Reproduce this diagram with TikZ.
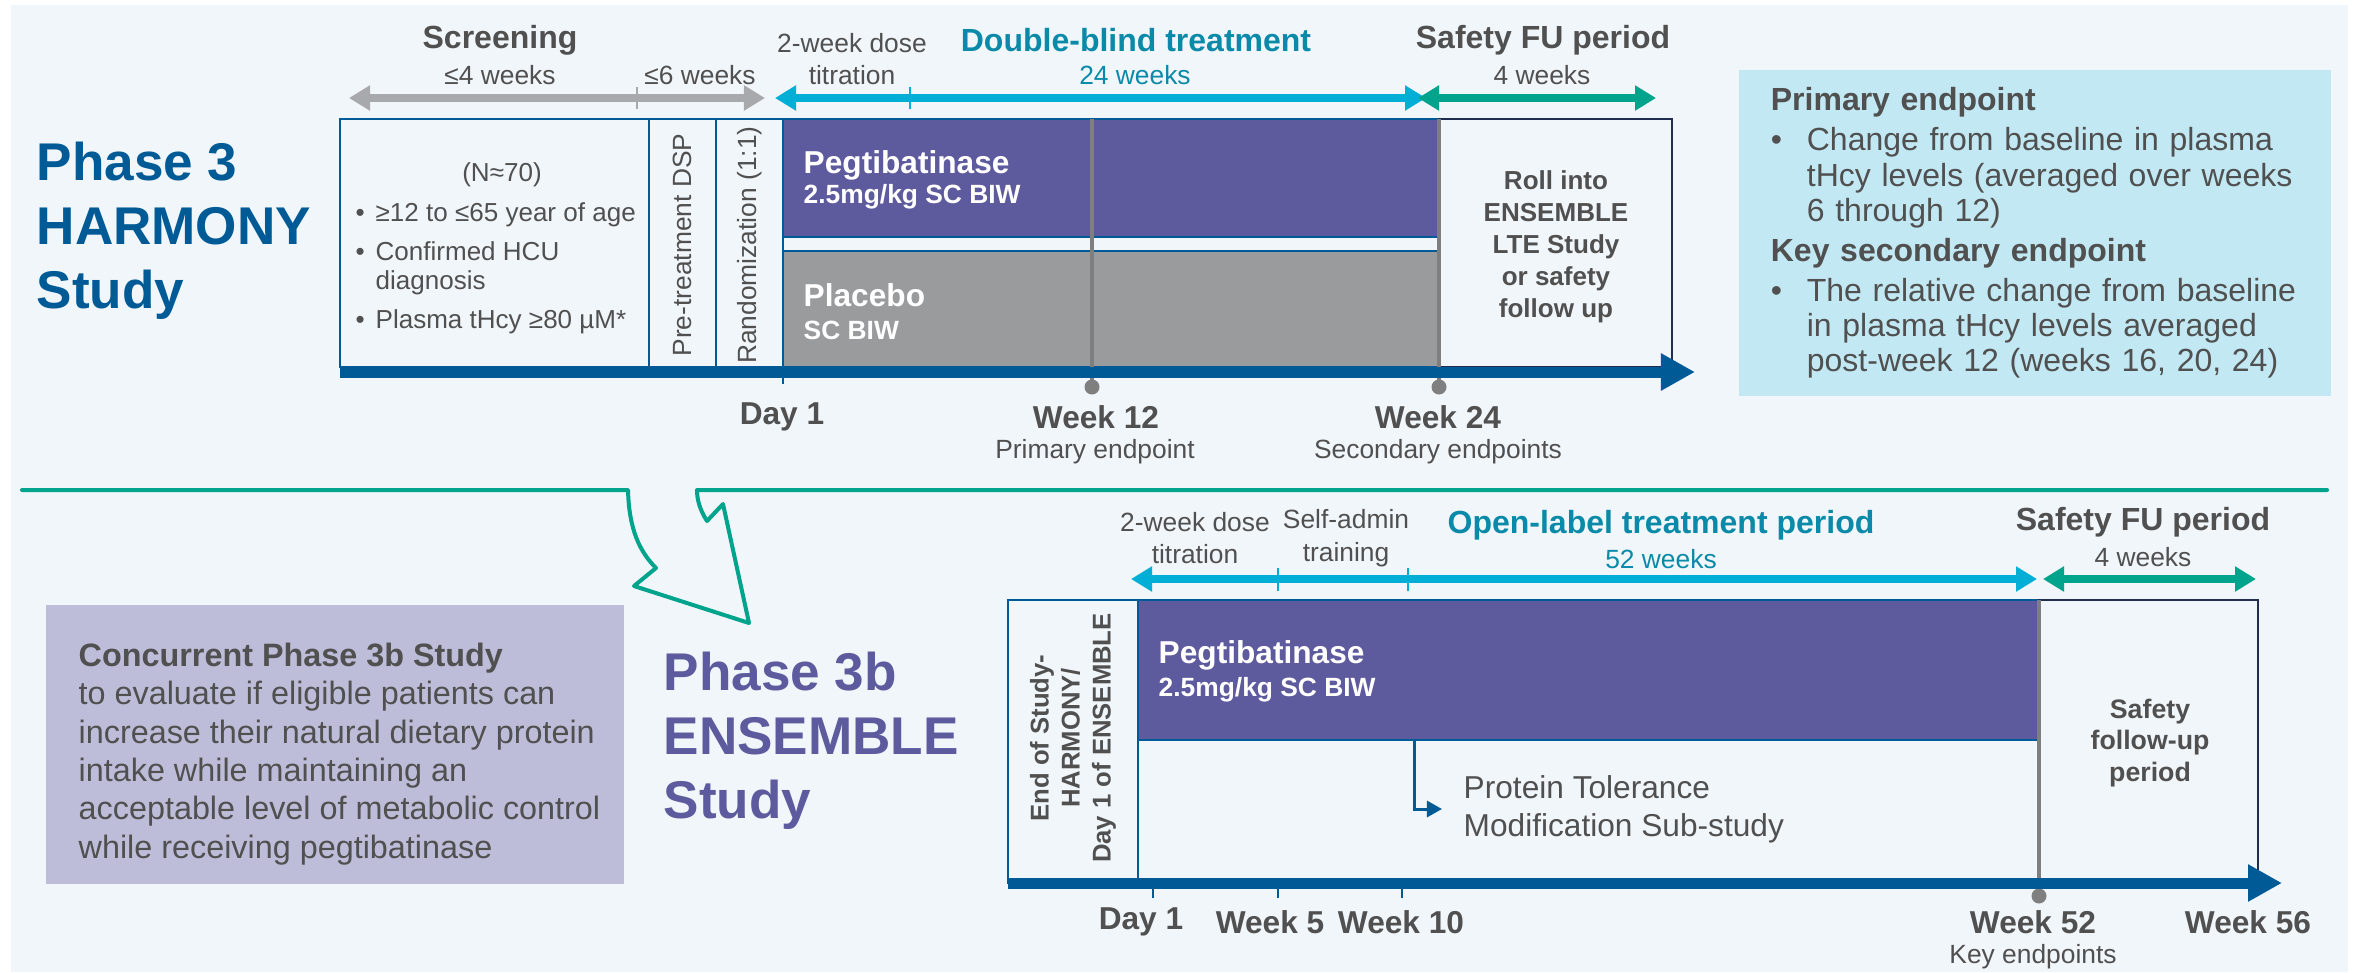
\documentclass[tikz,border=0pt]{standalone}
\usepackage{fontspec}
\setmainfont{Liberation Sans}
\usetikzlibrary{arrows.meta}
\definecolor{bgpale}{HTML}{F1F6FA}
\definecolor{harmblue}{HTML}{005A96}
\definecolor{pegpurple}{HTML}{5E5A9E}
\definecolor{placgrey}{HTML}{9A9B9D}
\definecolor{txtgrey}{HTML}{505050}
\definecolor{tealtxt}{HTML}{0A8AA8}
\definecolor{spancyan}{HTML}{00AED6}
\definecolor{spangreen}{HTML}{00A38B}
\definecolor{spangrey}{HTML}{A7A9AC}
\definecolor{infocyan}{HTML}{C2E8F3}
\definecolor{lavender}{HTML}{BDBDD9}
\definecolor{navyline}{HTML}{1F2D50}
\definecolor{markgrey}{HTML}{7F7F7F}
\newcommand{\critbullet}{\makebox[0.2cm][l]{•}}
\newcommand{\infobul}{\makebox[0.36cm][l]{•}}
\tikzstyle{studytitle} = [
    anchor=west,
    align=left,
    inner sep=0,
    font=\bfseries\fontsize{15.1}{18.2}\selectfont
]
\tikzstyle{heading} = [
    inner sep=0,
    text=txtgrey,
    font=\bfseries\fontsize{9.1}{10.9}\selectfont
]
\tikzstyle{subhead} = [
    inner sep=0,
    align=center,
    text=txtgrey,
    font=\fontsize{7.5}{9.2}\selectfont
]
\tikzstyle{daylabel} = [
    inner sep=0,
    text=txtgrey,
    font=\bfseries\fontsize{9}{10.8}\selectfont
]
\tikzstyle{endpointlabel} = [
    inner sep=0,
    text=txtgrey,
    font=\fontsize{7.5}{9}\selectfont
]
\tikzstyle{critlabel} = [
    anchor=west,
    align=left,
    inner sep=0,
    text=txtgrey,
    font=\fontsize{7.4}{8.3}\selectfont
]
\tikzstyle{drugname} = [
    anchor=west,
    inner sep=0,
    text=white,
    font=\bfseries\fontsize{9}{10.8}\selectfont
]
\tikzstyle{drugdose} = [
    anchor=west,
    inner sep=0,
    text=white,
    font=\bfseries\fontsize{7.5}{9}\selectfont
]
\tikzstyle{vertlabel} = [
    rotate=90,
    inner sep=0,
    align=center,
    text=txtgrey,
    font=\fontsize{7.5}{9}\selectfont
]
\tikzstyle{boxnote} = [
    inner sep=0,
    align=center,
    text=txtgrey,
    font=\bfseries\fontsize{7.4}{9.1}\selectfont
]
\tikzstyle{bodytext} = [
    anchor=west,
    align=left,
    inner sep=0,
    text=txtgrey,
    font=\fontsize{9.2}{10.9}\selectfont
]
\tikzstyle{infobox} = [
    rectangle,
    fill=infocyan,
    minimum width=5.92cm,
    minimum height=3.26cm,
    text width=5.28cm,
    inner xsep=0.32cm,
    inner ysep=0,
    align=left,
    text=txtgrey,
    font=\fontsize{9.1}{10}\selectfont
]
\tikzstyle{spanarrow} = [line width=0.8mm,
    {Triangle[length=2.1mm,width=2.4mm]}-{Triangle[length=2.1mm,width=2.4mm]}]
\tikzstyle{axisarrow} = [harmblue, line width=1.1mm,
    -{Triangle[length=3.4mm,width=3.5mm]}]
\tikzstyle{tickline} = [line width=0.25mm]
\tikzstyle{milestone} = [markgrey, line width=0.4mm]
\tikzstyle{boxline} = [harmblue, line width=0.2mm]
\tikzstyle{rollline} = [navyline, line width=0.2mm]
\tikzstyle{subarrow} = [harmblue, line width=0.3mm,
    -{Triangle[length=1.5mm,width=1.6mm]}]

\begin{document}
\begin{tikzpicture}[x=0.01cm, y=-0.01cm]

\useasboundingbox (0,0) rectangle (2354,972);
\fill [white] (0,0) rectangle (2354,972);
\fill [bgpale] (11,5) rectangle (2348,972);

\node (harmtitle) [studytitle, text=harmblue] at (36,231) {Phase 3\\HARMONY\\Study};

\node (screening) [heading] at (500,40) {Screening};
\node (scrfour) [subhead] at (500,75) {≤4 weeks};
\node (scrsix) [subhead] at (700,75) {≤6 weeks};
\node (titrone) [subhead] at (852,59) {2-week dose\\titration};
\node (dblind) [heading, text=tealtxt] at (1136,40) {Double-blind treatment};
\node (dbweeks) [subhead, text=tealtxt] at (1135,75) {24 weeks};
\node (safetyone) [heading] at (1543,40) {Safety FU period};
\node (sfweeksone) [subhead] at (1542,75) {4 weeks};

\coordinate (scrL) at (349,98);
\coordinate (scrR) at (765,98);
\coordinate (dbL) at (775,98);
\coordinate (dbR) at (1426,98);
\coordinate (sfL) at (1418,98);
\coordinate (sfR) at (1656,98);
\draw [spanarrow, spangrey] (scrL) -- (scrR);
\draw [tickline, spangrey] (637,87) -- (637,109);
\draw [spanarrow, spancyan] (dbL) -- (dbR);
\draw [tickline, spancyan] (910,87) -- (910,109);
\draw [spanarrow, spangreen] (sfL) -- (sfR);

\fill [pegpurple] (783,119) rectangle (1439,237);
\fill [placgrey] (783,251) rectangle (1439,367);
\draw [boxline] (340,119) rectangle (1439,367);
\draw [boxline] (649,119) -- (649,367);
\draw [boxline] (716,119) -- (716,367);
\draw [boxline] (783,119) -- (783,384);
\draw [boxline] (783,237) -- (1439,237);
\draw [boxline] (783,251) -- (1439,251);
\draw [rollline] (1439,119) rectangle (1672,367);

\draw [milestone] (1092,119) -- (1092,387);
\fill [markgrey] (1092,387) circle [radius=0.75mm];
\draw [milestone] (1439,119) -- (1439,387);
\fill [markgrey] (1439,387) circle [radius=0.75mm];

\coordinate (axoneL) at (340,372);
\coordinate (axoneR) at (1695,372);
\draw [axisarrow] (axoneL) -- (axoneR);

\node (dayonea) [daylabel] at (782,417) {Day 1};
\node (wktwelve) [daylabel] at (1096,417) {Week 12};
\node (wktwentyfour) [daylabel] at (1438,417) {Week 24};
\node (primep) [endpointlabel] at (1095,452) {Primary endpoint};
\node (secep) [endpointlabel] at (1438,452) {Secondary endpoints};

\node (ncount) [critlabel, anchor=center] at (502,175) {(N≈70)};
\node (critage) [critlabel] at (355,215) {\critbullet ≥12 to ≤65 year of age};
\node (crithcu) [critlabel] at (355,268) {\critbullet Confirmed HCU\\\hspace*{0.2cm}diagnosis};
\node (critthcy) [critlabel] at (355,322) {\critbullet Plasma tHcy ≥80 µM*};
\node (pretreat) [vertlabel] at (682,245) {Pre-treatment DSP};
\node (random) [vertlabel] at (750,245) {Randomization (1:1)};

\node (pegone) [drugname] at (803,165) {Pegtibatinase};
\node (pegonedose) [drugdose] at (803,197) {2.5mg/kg SC BIW};
\node (placebo) [drugname] at (803,295) {Placebo};
\node (placebodose) [drugdose] at (803,330) {SC BIW};

\node (rollinto) [boxnote] at (1556,247) {Roll into\\ENSEMBLE\\LTE Study\\or safety\\follow up};

\node (endpoints) [infobox] at (2035,233) {{\bfseries Primary endpoint}\\[0.05cm]
\infobul Change from baseline in plasma\\
\hspace*{0.36cm}tHcy levels (averaged over weeks\\
\hspace*{0.36cm}6 through 12)\\[0.05cm]
{\bfseries Key secondary endpoint}\\[0.05cm]
\infobul The relative change from baseline\\
\hspace*{0.36cm}in plasma tHcy levels averaged\\
\hspace*{0.36cm}post-week 12 (weeks 16, 20, 24)};

\draw [spangreen, line width=0.4mm, line join=round, line cap=round]
    (22,490) -- (628,490) .. controls (629,530) and (640,552) .. (656,568)
    -- (634,586) -- (749,623) -- (723,504) -- (707,521)
    .. controls (700,510) and (697,500) .. (697,490) -- (2327,490);

\fill [lavender] (46,605) rectangle (624,884);
\node (concurrent) [bodytext] at (78,754) {{\bfseries Concurrent Phase 3b Study}\\to evaluate if eligible patients can\\increase their natural dietary protein\\intake while maintaining an\\acceptable level of metabolic control\\while receiving pegtibatinase};

\node (enstitle) [studytitle, text=pegpurple] at (663,741) {Phase 3b\\ENSEMBLE\\Study};

\node (titrtwo) [subhead] at (1195,538) {2-week dose\\titration};
\node (selfadmin) [subhead] at (1346,538) {Self-admin\\training};
\node (openlabel) [heading, text=tealtxt] at (1661,525) {Open-label treatment period};
\node (olweeks) [subhead, text=tealtxt] at (1661,559) {52 weeks};
\node (safetytwo) [heading] at (2143,522) {Safety FU period};
\node (sfweekstwo) [subhead] at (2143,557) {4 weeks};

\coordinate (olL) at (1131,579);
\coordinate (olR) at (2037,579);
\coordinate (sftwoL) at (2043,579);
\coordinate (sftwoR) at (2256,579);
\draw [spanarrow, spancyan] (olL) -- (olR);
\draw [tickline, spancyan] (1278,568) -- (1278,591);
\draw [tickline, spancyan] (1408,568) -- (1408,591);
\draw [spanarrow, spangreen] (sftwoL) -- (sftwoR);

\fill [pegpurple] (1138,600) rectangle (2039,740);
\draw [boxline] (1008,600) rectangle (2039,883);
\draw [boxline] (1138,600) -- (1138,883);
\draw [boxline] (1138,740) -- (2039,740);
\draw [rollline] (2039,600) rectangle (2258,883);

\draw [milestone] (2039,600) -- (2039,896);
\fill [markgrey] (2039,896) circle [radius=0.75mm];

\coordinate (axtwoL) at (1008,883);
\coordinate (axtwoR) at (2282,883);
\draw [axisarrow] (axtwoL) -- (axtwoR);
\draw [tickline, harmblue] (1153,883) -- (1153,898);
\draw [tickline, harmblue] (1278,883) -- (1278,898);
\draw [tickline, harmblue] (1402,883) -- (1402,898);

\node (dayoneb) [daylabel] at (1141,922) {Day 1};
\node (wkfive) [daylabel] at (1270,922) {Week 5};
\node (wkten) [daylabel] at (1401,922) {Week 10};
\node (wkfiftytwo) [daylabel] at (2033,922) {Week 52};
\node (wkfiftysix) [daylabel] at (2248,922) {Week 56};
\node (keyep) [endpointlabel] at (2033,957) {Key endpoints};

\node (pegtwo) [drugname] at (1158,655) {Pegtibatinase};
\node (pegtwodose) [drugdose] at (1158,690) {2.5mg/kg SC BIW};
\node (endofstudy) [vertlabel, font=\bfseries\fontsize{7.3}{8.8}\selectfont] at (1073,738) {End of Study-\\HARMONY/\\Day 1 of ENSEMBLE};
\node (safetyfu) [boxnote, font=\bfseries\fontsize{7.6}{9}\selectfont] at (2150,743) {Safety\\follow-up\\period};

\node (ptlabel) [bodytext, font=\fontsize{9}{10.8}\selectfont] at (1463,809) {Protein Tolerance\\Modification Sub-study};
\coordinate (ptsplit) at (1414,740);
\draw [subarrow] (ptsplit) |- ([xshift=-0.21cm]ptlabel.west);

\end{tikzpicture}
\end{document}
